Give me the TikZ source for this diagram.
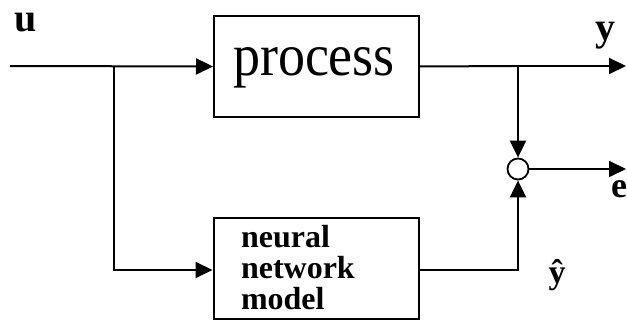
\documentclass[tikz,border=0pt]{standalone}
\usepackage{fontspec}
\setmainfont{Liberation Serif}
\usetikzlibrary{arrows.meta}
\begin{document}
\begin{tikzpicture}[x=1pt,y=-1pt,
  line width=2pt,
  blockbox/.style={draw,line width=2pt,minimum width=205pt,minimum height=101pt,inner sep=0pt},
  sumnode/.style={draw,circle,line width=1.8pt,minimum size=21pt,inner sep=0pt},
  sig/.style={-{Triangle[length=17pt,width=16pt]}},
  lbl/.style={inner sep=0pt,anchor=base,font=\bfseries\fontsize{40}{40}\selectfont}]
\useasboundingbox (0,0) rectangle (627,321);
% blocks
\node[blockbox] (proc) at (316.5,66.5) {};
\node[inner sep=0pt,font=\fontsize{54}{54}\selectfont] (proctext) at (314,68) {\scalebox{1}[1.1]{process}};
\node[blockbox] (nn) at (316,268) {};
\node[anchor=west,align=left,inner sep=0pt,font=\bfseries\fontsize{32}{31}\selectfont] (nntext) at (240,268) {neural\\network\\model};
\node[sumnode] (sum) at (518,169) {};
% coordinates
\coordinate (in) at (10,66);
\coordinate (br) at (114,66);
\coordinate (brd) at (114,270);
\coordinate (sp) at (518,66);
\coordinate (yout) at (626,66);
\coordinate (eout) at (626,169);
\coordinate (nnc) at (518,270);
% labels
\node[lbl,text height=20pt] (ul) at (26,32) {u};
\node[lbl,text height=20pt] (yl) at (605,41) {y};
\node[lbl,text height=17pt,font=\bfseries\fontsize{36}{36}\selectfont] (el) at (619,197) {e};
\node[lbl,font=\bfseries\fontsize{34}{34}\selectfont] (yh) at (557,283) {ŷ};
% connectors
\draw[sig] (in) -- (proc.west);
\draw (proc.east) -- (sp);
\draw[sig] (sp) -- (yout);
\draw[sig] (sp) -- (sum.north);
\draw[sig] (sum.east) -- (eout);
\draw[sig] (br) -- (brd) -- (nn.west |- brd);
\draw[sig] (nn.east |- nnc) -- (nnc) -- (sum.south);
\end{tikzpicture}
\end{document}
